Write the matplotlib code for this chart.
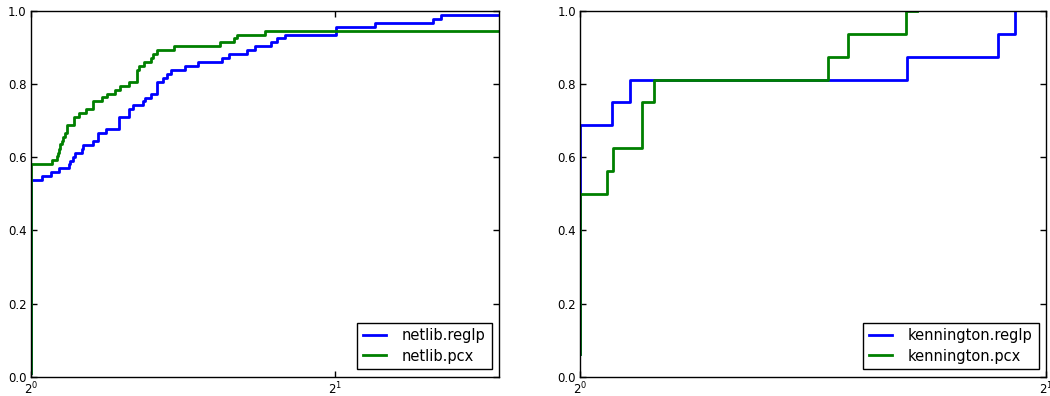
import matplotlib
matplotlib.use("Agg")
import matplotlib.pyplot as plt
from matplotlib.ticker import LogFormatterMathtext, FixedLocator, NullLocator

# ---------------- data (performance profiles) ----------------
# netlib
netlib_reglp_tau = [1.0, 1.0, 1.027, 1.047, 1.067, 1.090, 1.094, 1.102, 1.106, 1.123, 1.127,
                    1.153, 1.166, 1.187, 1.222, 1.252, 1.263, 1.292, 1.297, 1.314, 1.334,
                    1.351, 1.363, 1.376, 1.421, 1.464, 1.547, 1.572, 1.638, 1.667, 1.728,
                    1.751, 1.785, 2.003, 2.191, 2.502, 2.544, 2.905]
netlib_reglp_rho = [0.011, 0.538, 0.548, 0.559, 0.570, 0.581, 0.591, 0.602, 0.613, 0.624, 0.634,
                    0.645, 0.667, 0.677, 0.710, 0.731, 0.742, 0.753, 0.763, 0.774, 0.806,
                    0.817, 0.828, 0.839, 0.849, 0.860, 0.871, 0.882, 0.892, 0.903, 0.914,
                    0.925, 0.935, 0.957, 0.968, 0.978, 0.989, 0.989]

netlib_pcx_tau = [1.0, 1.0, 1.049, 1.062, 1.065, 1.067, 1.070, 1.074, 1.077, 1.081, 1.086,
                  1.104, 1.117, 1.134, 1.152, 1.175, 1.191, 1.213, 1.226, 1.250, 1.274,
                  1.281, 1.293, 1.315, 1.320, 1.333, 1.385, 1.539, 1.590, 1.599, 1.705, 2.905]
netlib_pcx_rho = [0.011, 0.581, 0.592, 0.603, 0.613, 0.624, 0.635, 0.645, 0.656, 0.667, 0.689,
                  0.711, 0.721, 0.732, 0.753, 0.764, 0.774, 0.785, 0.796, 0.806, 0.839,
                  0.849, 0.860, 0.871, 0.882, 0.892, 0.903, 0.914, 0.925, 0.935, 0.946, 0.946]

# kennington
kenn_reglp_tau = [1.0, 1.0, 1.049, 1.078, 1.626, 1.863, 1.911]
kenn_reglp_rho = [0.0625, 0.6875, 0.75, 0.8125, 0.875, 0.9375, 1.0]

kenn_pcx_tau = [1.0, 1.0, 1.041, 1.051, 1.096, 1.116, 1.447, 1.490, 1.623, 1.650]
kenn_pcx_rho = [0.0625, 0.5, 0.5625, 0.625, 0.75, 0.8125, 0.875, 0.9375, 1.0, 1.0]

panels = [
    dict(series=[("netlib.reglp", netlib_reglp_tau, netlib_reglp_rho),
                 ("netlib.pcx", netlib_pcx_tau, netlib_pcx_rho)],
         xmax=2.905),
    dict(series=[("kennington.reglp", kenn_reglp_tau, kenn_reglp_rho),
                 ("kennington.pcx", kenn_pcx_tau, kenn_pcx_rho)],
         xmax=2.0),
]
colors = ["#0000ff", "#008000"]
yticks = [0.0, 0.2, 0.4, 0.6, 0.8, 1.0]
xticks = [1, 2]

# ---------------- figure ----------------
fig = plt.figure(figsize=(10.5, 3.96), dpi=100)
H = 396.0
W = 1050.0
boxes = [(30.7, 499.0), (580.0, 1046.0)]
top_px, bot_px = 11.0, 376.7

for (x0, x1), panel in zip(boxes, panels):
    ax = fig.add_axes([x0 / W, 1 - bot_px / H, (x1 - x0) / W, (bot_px - top_px) / H])
    for (label, tau, rho), c in zip(panel["series"], colors):
        ax.plot(tau, rho, drawstyle="steps-post", color=c, lw=2, label=label)
    ax.set_xscale("log", base=2)
    ax.set_xlim(1, panel["xmax"])
    ax.set_ylim(0, 1)
    ax.xaxis.set_major_locator(FixedLocator(xticks))
    ax.xaxis.set_major_formatter(LogFormatterMathtext(base=2))
    ax.xaxis.set_minor_locator(NullLocator())
    ax.set_yticks(yticks)
    ax.set_yticklabels([f"{v:.1f}" for v in yticks])
    ax.tick_params(direction="in", length=4, width=1, top=True, right=True,
                   labelsize=8.5, pad=3, colors="black")
    for s in ax.spines.values():
        s.set_linewidth(1)
        s.set_color("black")
    leg = ax.legend(loc="lower right", fontsize=10.5, fancybox=False, frameon=True,
                    handlelength=1.6, handletextpad=1.1, borderaxespad=0.5,
                    labelspacing=0.35, borderpad=0.4)
    leg.get_frame().set_edgecolor("black")
    leg.get_frame().set_linewidth(1)
    leg.get_frame().set_alpha(1)

fig.savefig("out.png", dpi=100)
